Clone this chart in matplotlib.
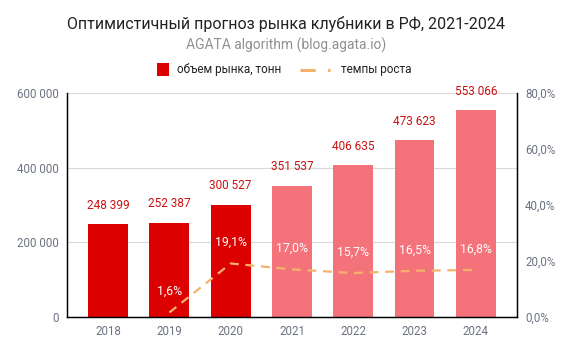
import numpy as np
import matplotlib
matplotlib.use("Agg")
import matplotlib.pyplot as plt
from matplotlib.ticker import FuncFormatter
from matplotlib.lines import Line2D
from matplotlib.patches import Rectangle

plt.rcParams['font.family'] = ['Roboto', 'DejaVu Sans']

# data
years = ['2018', '2019', '2020', '2021', '2022', '2023', '2024']
volume = [248399, 252387, 300527, 351537, 406635, 473623, 553066]
growth_years = ['2019', '2020', '2021', '2022', '2023', '2024']
growth = [1.6, 19.1, 17.0, 15.7, 16.5, 16.8]
n_actual = 3  # 2018-2020 actual, rest forecast

title = "Оптимистичный прогноз рынка клубники в РФ, 2021-2024"
subtitle = "AGATA algorithm (blog.agata.io)"
legend_labels = ['объем рынка, тонн', 'темпы роста']

dark_red = '#dd0000'
light_red = '#f4727a'
label_red = '#cc1111'
orange = '#f6b26b'
grey = '#6b7280'

W, H = 573, 353
fig = plt.figure(figsize=(W / 100, H / 100), dpi=100)
ax = fig.add_axes([0.117, 0.102, 0.785, 0.635])
ax2 = ax.twinx()

x = np.arange(len(years))
colors = [dark_red if i < n_actual else light_red for i in range(len(years))]
ax.bar(x, volume, width=0.65, color=colors, zorder=2)
ax.set_xlim(-0.67, len(years) - 0.33)
ax.set_ylim(0, 600000)
ax.set_yticks([0, 200000, 400000, 600000])
ax.yaxis.set_major_formatter(FuncFormatter(lambda v, p: f"{int(v):,}".replace(',', ' ')))
ax.set_xticks(x)
ax.set_xticklabels(years)
ax.grid(axis='y', color='#d9d9d9', linewidth=0.8, zorder=0)
ax.set_axisbelow(True)

# growth line
gx = [years.index(y) for y in growth_years]
ax2.plot(gx, growth, color=orange, linestyle=(0, (4, 3)), linewidth=1.6, zorder=3)
ax2.set_ylim(0, 80)
ax2.set_yticks([0, 20, 40, 60, 80])
ax2.yaxis.set_major_formatter(FuncFormatter(lambda v, p: f"{v:.1f}%".replace('.', ',')))
for xi, g in zip(gx, growth):
    ax2.annotate(f"{g:.1f}%".replace('.', ','), (xi, g), xytext=(0, 15), textcoords='offset points',
                 ha='center', va='center', color='white', fontsize=8.8)

# value labels on top of everything
for xi, v in zip(x, volume):
    ax2.annotate(f"{v:,}".replace(',', ' '), (xi, v / 600000 * 80), xytext=(0, 9), textcoords='offset points',
                 ha='center', va='bottom', color=label_red, fontsize=8.5, zorder=5)

for a in (ax, ax2):
    a.spines['top'].set_visible(False)
    for s in ('left', 'right', 'bottom'):
        a.spines[s].set_color('black')
        a.spines[s].set_linewidth(0.9)
    a.tick_params(length=0, colors=grey, labelsize=8.3, pad=6)

fig.text(286 / W, 1 - 24 / H, title, ha='center', va='center', fontsize=11.5, color='#222222')
fig.text(286 / W, 1 - 45 / H, subtitle, ha='center', va='center', fontsize=10, color='#909090')

# legend, drawn by hand
ly = 1 - 69.5 / H
fig.patches.append(Rectangle((157 / W, ly - 6 / H), 12 / W, 12 / H, transform=fig.transFigure,
                             facecolor=dark_red, edgecolor='none'))
fig.text(177 / W, ly, legend_labels[0], ha='left', va='center', fontsize=8.5, color='#222222')
fig.lines.append(Line2D([300 / W, 330 / W], [ly, ly], transform=fig.transFigure, color=orange,
                        linestyle=(0, (5, 4)), linewidth=2.2))
fig.text(341 / W, ly, legend_labels[1], ha='left', va='center', fontsize=8.5, color='#222222')

fig.savefig('out.png', dpi=100)
